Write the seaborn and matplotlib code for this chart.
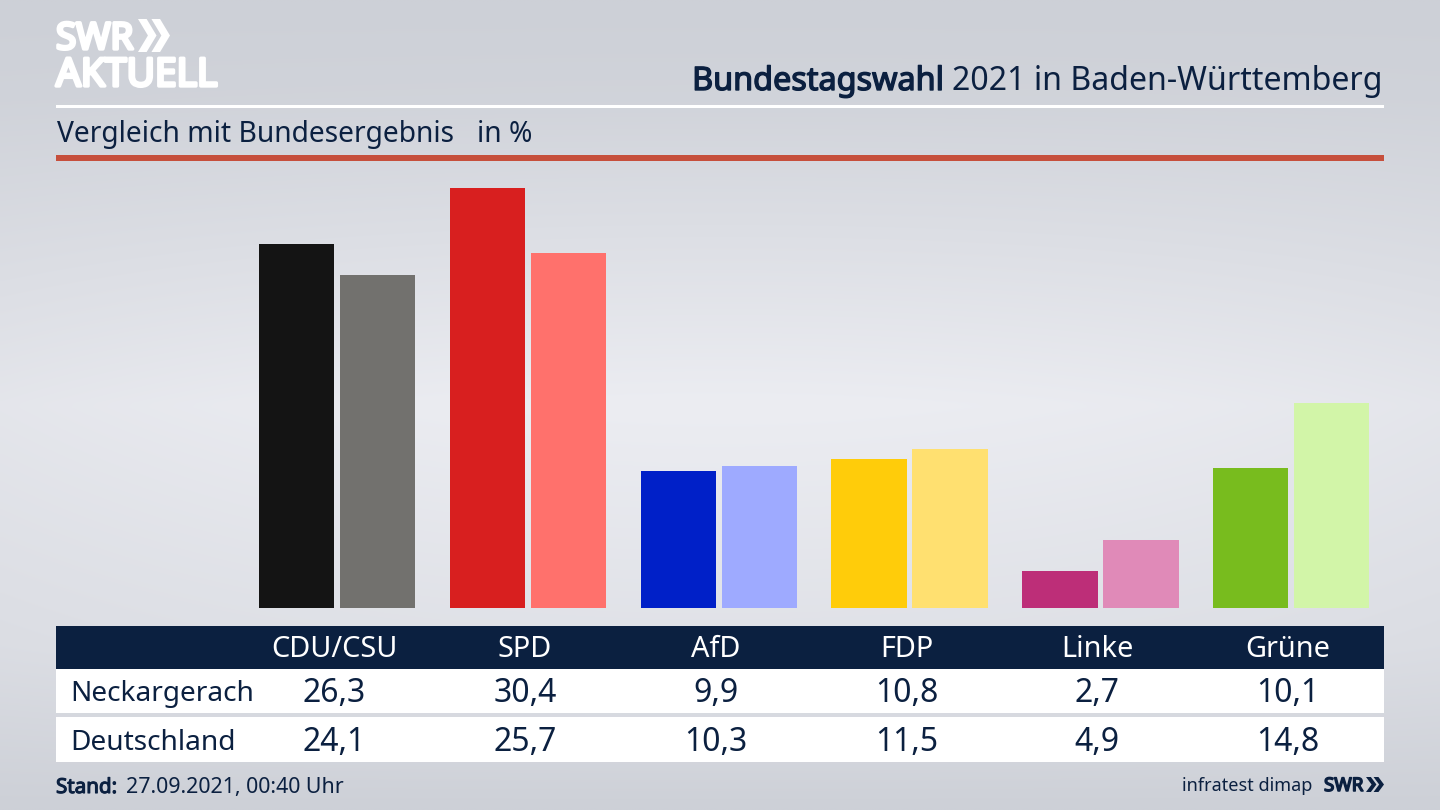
import numpy as np
import pandas as pd
import seaborn as sns
import matplotlib.pyplot as plt
import matplotlib.patheffects as pe
from matplotlib.patches import Rectangle, Polygon

sns.set_theme(style='white')
plt.rcParams['font.family'] = ['Noto Sans', 'DejaVu Sans']

# data
parties = ['CDU/CSU', 'SPD', 'AfD', 'FDP', 'Linke', 'Grüne']
regions = ['Neckargerach', 'Deutschland']
neckargerach = [26.3, 30.4, 9.9, 10.8, 2.7, 10.1]
deutschland = [24.1, 25.7, 10.3, 11.5, 4.9, 14.8]
colors_strong = ['#141414', '#d81f1f', '#0020c8', '#ffcc0a', '#bd2e78', '#78bc1e']
colors_light = ['#72716e', '#ff716c', '#9eaaff', '#ffe070', '#e08ab8', '#d2f5a8']

NAVY = '#0b2040'
W, H = 1440, 810

df = pd.DataFrame({
    'party': parties * 2,
    'region': [regions[0]] * 6 + [regions[1]] * 6,
    'value': neckargerach + deutschland,
})

fig = plt.figure(figsize=(14.4, 8.1), dpi=100)

#--------background gradient + furniture layer, in pixel coords--
bg = fig.add_axes([0, 0, 1, 1], zorder=0)
yy = np.linspace(0, 1, 200)
xx = np.linspace(-1, 1, 300)
vert = np.interp(yy, [0, 0.12, 0.5, 0.8, 1], [0.0, 0.12, 1.0, 0.6, 0.0])
side = 1 - 0.25 * xx**2
grad = np.outer(vert, side)
low = np.array([205, 208, 215]) / 255
high = np.array([236, 237, 242]) / 255
img = low + grad[..., None] * (high - low)
bg.imshow(img, extent=[0, W, H, 0], aspect='auto', interpolation='bilinear')
bg.set_xlim(0, W)
bg.set_ylim(H, 0)
bg.axis('off')

bg.add_patch(Rectangle((56, 104.5), 1328, 3, color='white', lw=0))
bg.add_patch(Rectangle((56, 155), 1328, 5.5, color='#c64f3c', lw=0))
bg.add_patch(Rectangle((56, 625.5), 1328, 43.5, color=NAVY, lw=0))
bg.add_patch(Rectangle((56, 669), 1328, 44, color='white', lw=0))
bg.add_patch(Rectangle((56, 717), 1328, 45, color='white', lw=0))


def chevrons(ax, x, y, w, h, color):
    # two arrow heads side by side, used by the SWR logo
    cw = w * 0.58
    t = w * 0.27
    for dx in (0, w - cw):
        ax.add_patch(Polygon([(x + dx, y), (x + dx + t, y), (x + dx + cw, y + h / 2),
                              (x + dx + t, y + h), (x + dx, y + h),
                              (x + dx + cw - t, y + h / 2)], color=color, lw=0))


def fat(ax, x, y, s, color, size, width, **kw):
    # Noto Sans has no real bold here, so thicken the outline
    return ax.text(x, y, s, color=color, fontsize=size, va='baseline',
                   path_effects=[pe.withStroke(linewidth=width, foreground=color)], **kw)


# logo
fat(bg, 56, 49, 'SWR', 'white', 26.5, 2.4, ha='left')
chevrons(bg, 138, 19, 32, 33, 'white')
fat(bg, 56, 86, 'AKTUELL', 'white', 28, 2.4, ha='left')

# heading
t2 = bg.text(1383, 90, '2021 in Baden-Württemberg', color=NAVY, fontsize=23.1, va='baseline', ha='right')
fat(bg, 944, 90, 'Bundestagswahl', NAVY, 23.3, 1.0, ha='right')
bg.text(57, 142, 'Vergleich mit Bundesergebnis', color=NAVY, fontsize=20.3, va='baseline', ha='left')
bg.text(477, 142, 'in %', color=NAVY, fontsize=20.3, va='baseline', ha='left')

#--------bars-----------------
PX_PER_UNIT = 13.83
ax_left, ax_right, ax_top, ax_bottom = 241.8, 1386.6, 160, 608
ax = fig.add_axes([ax_left / W, 1 - ax_bottom / H, (ax_right - ax_left) / W, (ax_bottom - ax_top) / H], zorder=1)
ax.patch.set_alpha(0)
sns.barplot(data=df, x='party', y='value', hue='region', order=parties,
            hue_order=regions, width=0.849, gap=0.068, legend=False, ax=ax, saturation=1, errorbar=None)
for container, cols in zip(ax.containers, [colors_strong, colors_light]):
    for bar, col in zip(container, cols):
        bar.set_facecolor(col)
        bar.set_edgecolor('none')
ax.set_xlim(-0.5, 5.5)
ax.set_ylim(0, (ax_bottom - ax_top) / PX_PER_UNIT)
ax.axis('off')

#--------table-----------------
col_x = [334, 525, 716, 907, 1097, 1288]
for x, name, v1, v2 in zip(col_x, parties, neckargerach, deutschland):
    bg.text(x, 657, name, color='white', fontsize=20.8, ha='center', va='baseline')
    bg.text(x, 702, f'{v1:.1f}'.replace('.', ','), color=NAVY, fontsize=23, ha='center', va='baseline')
    bg.text(x, 751, f'{v2:.1f}'.replace('.', ','), color=NAVY, fontsize=23, ha='center', va='baseline')
bg.text(70.5, 701, regions[0], color=NAVY, fontsize=20.2, ha='left', va='baseline')
bg.text(70.5, 750, regions[1], color=NAVY, fontsize=20.2, ha='left', va='baseline')

#--------footer-----------------
fat(bg, 56, 793, 'Stand:', NAVY, 14.8, 0.8, ha='left')
bg.text(126, 793, '27.09.2021, 00:40 Uhr', color=NAVY, fontsize=15.4, ha='left', va='baseline')
bg.text(1312, 791, 'infratest dimap', color=NAVY, fontsize=13, ha='right', va='baseline')
fat(bg, 1324, 791, 'SWR', NAVY, 13.5, 1.1, ha='left')
chevrons(bg, 1366, 777, 18, 15, NAVY)

fig.savefig('out.png', dpi=100)
